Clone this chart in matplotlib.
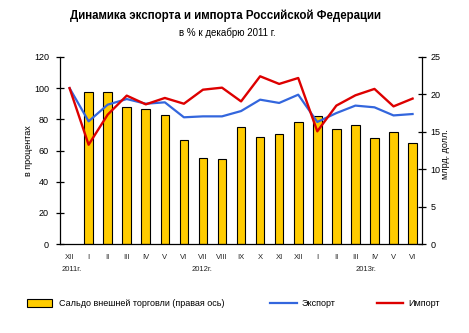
import matplotlib
matplotlib.use("Agg")
import matplotlib.pyplot as plt
from matplotlib.patches import Rectangle
from matplotlib.lines import Line2D

plt.rcParams['font.family'] = ['Liberation Sans', 'DejaVu Sans']

months = ["XII", "I", "II", "III", "IV", "V", "VI", "VII", "VIII", "IX", "X", "XI", "XII",
          "I", "II", "III", "IV", "V", "VI"]
# trade balance, bn USD (right axis); no value for Dec 2011
balance = [None, 20.3, 20.3, 18.3, 18.0, 17.3, 13.9, 11.5, 11.4, 15.6, 14.3, 14.7, 16.3,
           17.1, 15.4, 15.9, 14.2, 15.0, 13.5]
# export and import, % of December 2011 (left axis)
export = [100, 78.7, 89.4, 93.0, 90.0, 90.9, 81.3, 81.9, 81.9, 85.3, 92.6, 90.5, 95.8,
          78.3, 84.0, 88.8, 87.7, 82.5, 83.4]
imports = [100, 63.7, 83.0, 95.2, 89.6, 93.7, 90.0, 99.0, 100.3, 91.5, 107.6, 102.7, 106.5,
           72.3, 88.8, 95.4, 99.5, 88.3, 93.3]
years = [("2011г.", 0.1), ("2012г.", 6.95), ("2013г.", 15.55)]

fig = plt.figure(figsize=(4.69, 3.33), dpi=100)
ax = fig.add_axes([0.128, 0.267, 0.772, 0.562])
ax2 = ax.twinx()

x = list(range(len(months)))
bx = [i for i, v in enumerate(balance) if v is not None]
bv = [v for v in balance if v is not None]

gold = "#FFCC00"
blue = "#3366DD"
red = "#DD0000"

ax2.bar(bx, bv, width=0.45, color=gold, edgecolor="black", linewidth=0.8, zorder=1)
ax2.set_ylim(0, 25)
ax2.set_yticks([0, 5, 10, 15, 20, 25])

ax.set_zorder(ax2.get_zorder() + 1)
ax.patch.set_visible(False)
ax.plot(x, export, color=blue, linewidth=1.6, zorder=3)
ax.plot(x, imports, color=red, linewidth=1.7, zorder=4)
ax.set_ylim(0, 120)
ax.set_yticks([0, 20, 40, 60, 80, 100, 120])
ax.set_xlim(-0.5, len(months) - 0.5)
ax.set_xticks(x)
ax.set_xticklabels(months, fontsize=5.5, color="#222222")

for a in (ax, ax2):
    a.spines['top'].set_visible(False)
    for s in a.spines.values():
        s.set_linewidth(0.9)
ax.spines['right'].set_visible(False)
ax2.spines['left'].set_visible(False)
ax2.spines['bottom'].set_visible(False)

ax.tick_params(axis='y', direction='inout', length=6, width=0.9, labelsize=6.5, pad=5)
ax2.tick_params(axis='y', direction='inout', length=6, width=0.9, labelsize=6.5, pad=3)
ax.tick_params(axis='x', length=0, pad=7)

ax.set_ylabel("в процентах", fontsize=6.5)
ax.yaxis.set_label_coords(-0.074, 0.5)
ax2.set_ylabel("млрд. долл.", fontsize=6.5, rotation=90)
ax2.yaxis.set_label_coords(1.052, 0.48)

for label, pos in years:
    ax.text(pos, -0.135, label, transform=ax.get_xaxis_transform(),
            ha="center", va="center", fontsize=5.5, color="#222222")

fig.text(0.48, 0.953, "Динамика экспорта и импорта Российской Федерации",
         ha="center", va="center", fontsize=8.3, fontweight="bold")
fig.text(0.485, 0.903, "в % к декабрю 2011 г.", ha="center", va="center", fontsize=7)

# legend row
ly = 1 - 303 / 333
fig.patches.append(Rectangle((27 / 469, ly - 0.011), 25 / 469, 0.022, transform=fig.transFigure,
                             facecolor=gold, edgecolor="black", linewidth=0.8))
fig.text(59 / 469, ly, "Сальдо внешней торговли (правая ось)", ha="left", va="center", fontsize=6.5)
fig.lines.append(Line2D([270 / 469, 297 / 469], [ly, ly], transform=fig.transFigure,
                        color=blue, linewidth=1.6))
fig.text(302 / 469, ly, "Экспорт", ha="left", va="center", fontsize=6.5)
fig.lines.append(Line2D([377 / 469, 403 / 469], [ly, ly], transform=fig.transFigure,
                        color=red, linewidth=1.7))
fig.text(408 / 469, ly, "Импорт", ha="left", va="center", fontsize=6.5)

fig.savefig("out.png", dpi=100)
